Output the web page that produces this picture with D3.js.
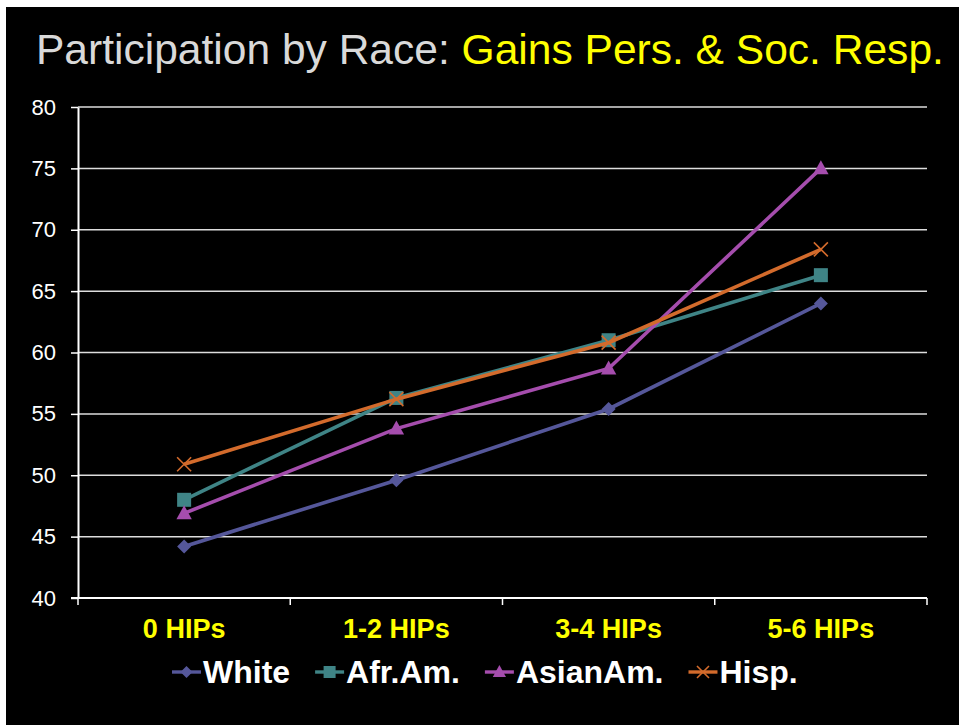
<!DOCTYPE html>
<html>
<head>
<meta charset="utf-8">
<script src="https://cdn.jsdelivr.net/npm/d3@7"></script>
<style>
  html, body { margin: 0; padding: 0; background: #ffffff; }
  svg { display: block; }
  text { font-family: "Liberation Sans", Arial, sans-serif; }
</style>
</head>
<body>
<svg id="chart" width="959" height="725"></svg>
<script>
const categories = ["0 HIPs", "1-2 HIPs", "3-4 HIPs", "5-6 HIPs"];
const seriesNames = ["White", "Afr.Am.", "AsianAm.", "Hisp."];
const whiteValues = [44.2, 49.6, 55.4, 64.0];
const afrAmValues = [48.0, 56.3, 61.0, 66.3];
const asianAmValues = [46.9, 53.8, 58.7, 75.0];
const hispValues = [50.9, 56.2, 60.8, 68.4];
const yTicks = [40, 45, 50, 55, 60, 65, 70, 75, 80];
const titleMain = "Participation by Race: ";
const titleSub = "Gains Pers. & Soc. Resp.";

(function () {
const seriesValues = [whiteValues, afrAmValues, asianAmValues, hispValues];
const colors = ["#55579A", "#3F8486", "#A54DAD", "#D36B2C"];
const markers = ["diamond", "square", "triangle", "cross"];

const svg = d3.select("#chart");
svg.append("rect").attr("x", 0).attr("y", 0).attr("width", 959).attr("height", 725).attr("fill", "#ffffff");
svg.append("rect").attr("x", 6).attr("y", 7).attr("width", 953).attr("height", 718).attr("fill", "#000000");

// title
const title = svg.append("text").attr("x", 0).attr("y", 0).attr("font-size", 43);
title.append("tspan").attr("fill", "#D9D9D9").text(titleMain);
title.append("tspan").attr("fill", "#FFFF00").text(titleSub);
const tw = title.node().getComputedTextLength();
const targetW = 908;
title.attr("transform", `translate(36,64) scale(${targetW / tw},1)`);

const pLeft = 78, pRight = 927, pTop = 107, pBottom = 598;
const x = d3.scaleBand().domain(categories).range([pLeft, pRight]);
const y = d3.scaleLinear().domain([40, 80]).range([pBottom, pTop]);

// gridlines
svg.append("g")
  .selectAll("line").data(yTicks.filter(t => t > 40)).join("line")
  .attr("x1", pLeft).attr("x2", pRight)
  .attr("y1", d => y(d)).attr("y2", d => y(d))
  .attr("stroke", "#DDDDDD").attr("stroke-width", 1.5);

// y axis
const yAxis = svg.append("g").attr("transform", `translate(${pLeft},0)`)
  .call(d3.axisLeft(y).tickValues(yTicks).tickSize(7).tickPadding(6).tickSizeOuter(0));
yAxis.select(".domain").attr("stroke", "#ffffff").attr("stroke-width", 2);
yAxis.selectAll(".tick line").attr("stroke", "#ffffff").attr("stroke-width", 1.5);
yAxis.selectAll(".tick text").attr("fill", "#ffffff").attr("font-size", 22)
  .attr("font-family", "'Liberation Sans', Arial, sans-serif").attr("x", -22);

// x axis
const xAxis = svg.append("g").attr("transform", `translate(0,${pBottom})`)
  .call(d3.axisBottom(x).tickSize(0).tickPadding(22).tickSizeOuter(0));
xAxis.select(".domain").attr("stroke", "#ffffff").attr("stroke-width", 2)
  .attr("d", `M${pLeft - 7},0H${pRight}`);
xAxis.selectAll(".tick text").attr("fill", "#FFFF00").attr("font-size", 27)
  .attr("font-weight", "bold").attr("font-family", "'Liberation Sans', Arial, sans-serif")
  .attr("dy", "0.71em").attr("y", 21);
const bounds = categories.map(c => x(c)).concat([pRight]);
svg.append("g").selectAll("line").data(bounds).join("line")
  .attr("x1", d => d).attr("x2", d => d)
  .attr("y1", pBottom).attr("y2", pBottom + 7)
  .attr("stroke", "#ffffff").attr("stroke-width", 1.5);

const cx = c => x(c) + x.bandwidth() / 2;

function drawMarker(g, type, color, px, py, s) {
  if (type === "diamond") {
    g.append("path").attr("d", `M${px},${py - s}L${px + s},${py}L${px},${py + s}L${px - s},${py}Z`).attr("fill", color);
  } else if (type === "square") {
    g.append("rect").attr("x", px - s).attr("y", py - s).attr("width", 2 * s).attr("height", 2 * s).attr("fill", color);
  } else if (type === "triangle") {
    g.append("path").attr("d", `M${px},${py - s * 1.15}L${px + s * 1.1},${py + s * 0.85}L${px - s * 1.1},${py + s * 0.85}Z`).attr("fill", color);
  } else {
    g.append("path").attr("d", `M${px - s},${py - s}L${px + s},${py + s}M${px - s},${py + s}L${px + s},${py - s}`)
      .attr("stroke", color).attr("stroke-width", 1.6).attr("fill", "none");
  }
}

const line = d3.line().x((d, i) => cx(categories[i])).y(d => y(d));
seriesValues.forEach((vals, si) => {
  const g = svg.append("g");
  g.append("path").datum(vals).attr("d", line).attr("fill", "none")
    .attr("stroke", colors[si]).attr("stroke-width", 3.6);
  vals.forEach((v, i) => drawMarker(g, markers[si], colors[si], cx(categories[i]), y(v), 7));
});

// legend
const legend = svg.append("g");
let lx = 172;
const ly = 672;
seriesNames.forEach((name, si) => {
  legend.append("line").attr("x1", lx).attr("x2", lx + 29).attr("y1", ly).attr("y2", ly)
    .attr("stroke", colors[si]).attr("stroke-width", 3.4);
  drawMarker(legend, markers[si], colors[si], lx + 14.5, ly, 6);
  const t = legend.append("text").attr("x", lx + 31).attr("y", ly + 11)
    .attr("fill", "#ffffff").attr("font-size", 32).attr("font-weight", "bold").text(name);
  lx = lx + 31 + t.node().getComputedTextLength() + 25;
});
})();
</script>
</body>
</html>
